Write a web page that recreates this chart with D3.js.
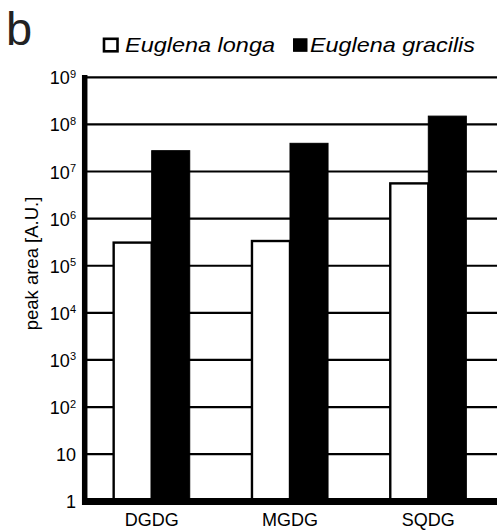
<!DOCTYPE html>
<html>
<head>
<meta charset="utf-8">
<script src="https://cdn.jsdelivr.net/npm/d3@7"></script>
<style>
  html, body { margin: 0; padding: 0; background: #fff; }
  text { font-family: "Liberation Sans", Arial, sans-serif; }
</style>
</head>
<body>
<script>
// Data
const categories = ["DGDG", "MGDG", "SQDG"];
const seriesNames = ["Euglena longa", "Euglena gracilis"];
const longaValues = [3.1e5, 3.35e5, 5.6e6];
const gracilisValues = [2.77e7, 3.97e7, 1.5e8];
const tickPowers = [0, 1, 2, 3, 4, 5, 6, 7, 8, 9];

const width = 497;
const height = 530;

const svg = d3.select("body").append("svg")
    .attr("width", width)
    .attr("height", height)
    .attr("viewBox", [0, 0, width, height]);

// Scales
const y = d3.scaleLog()
    .domain([1, 1e9])
    .range([501.3, 77.3]);

const x = d3.scaleBand()
    .domain(categories)
    .range([86, 494])
    .paddingInner(0.45)
    .paddingOuter(0.2);

const xSub = d3.scaleBand()
    .domain(seriesNames)
    .range([0, x.bandwidth()]);

const rows = categories.map((c, i) => ({
  cat: c,
  values: [
    {name: seriesNames[0], value: longaValues[i], fill: "#fff"},
    {name: seriesNames[1], value: gracilisValues[i], fill: "#000"}
  ]
}));

// Grid lines (behind bars)
svg.append("g")
  .selectAll("line")
  .data(tickPowers.filter(p => p > 0))
  .join("line")
    .attr("x1", 87)
    .attr("x2", width)
    .attr("y1", p => y(Math.pow(10, p)))
    .attr("y2", p => y(Math.pow(10, p)))
    .attr("stroke", "#000")
    .attr("stroke-width", 2.2);

// Bars
svg.append("g")
  .selectAll("g")
  .data(rows)
  .join("g")
    .attr("transform", d => `translate(${x(d.cat)},0)`)
  .selectAll("rect")
  .data(d => d.values)
  .join("rect")
    .attr("x", d => xSub(d.name))
    .attr("width", xSub.bandwidth())
    .attr("y", d => y(d.value))
    .attr("height", d => y(1) - y(d.value))
    .attr("fill", d => d.fill)
    .attr("stroke", "#000")
    .attr("stroke-width", d => d.fill === "#fff" ? 2.4 : 1);

// Y axis with superscript tick labels
const yAxis = d3.axisLeft(y)
    .tickValues(tickPowers.map(p => Math.pow(10, p)))
    .tickSize(0)
    .tickPadding(0)
    .tickFormat(() => "");

const yg = svg.append("g")
    .attr("transform", "translate(76,0)")
    .call(yAxis);
yg.select(".domain").remove();

yg.selectAll(".tick text")
    .attr("font-size", 18)
    .attr("fill", "#000")
    .attr("dy", "0.36em")
    .attr("x", 0)
    .each(function(d) {
      const p = Math.round(Math.log10(d));
      const t = d3.select(this);
      if (p === 0) { t.text("1"); return; }
      if (p === 1) { t.text("10"); return; }
      t.append("tspan").text("10");
      t.append("tspan")
        .attr("font-size", 11)
        .attr("dy", -6.5)
        .text(p);
    });

// Axis lines (thick)
svg.append("line")
    .attr("x1", 84.7).attr("x2", 84.7)
    .attr("y1", 75).attr("y2", 505)
    .attr("stroke", "#000")
    .attr("stroke-width", 5.5);

svg.append("line")
    .attr("x1", 82).attr("x2", width)
    .attr("y1", 501.6).attr("y2", 501.6)
    .attr("stroke", "#000")
    .attr("stroke-width", 7);

// X axis labels
const xAxis = d3.axisBottom(x).tickSize(0).tickPadding(0);
const xg = svg.append("g")
    .attr("transform", "translate(0,512)")
    .call(xAxis);
xg.select(".domain").remove();
xg.selectAll(".tick text")
    .attr("font-size", 18)
    .attr("fill", "#000")
    .attr("y", 0)
    .attr("dy", "0.76em");

// Y axis title
svg.append("text")
    .attr("transform", "translate(38,263.5) rotate(-90)")
    .attr("text-anchor", "middle")
    .attr("font-size", 18.5)
    .attr("fill", "#000")
    .text("peak area [A.U.]");

// Legend
const legendItems = [
  {name: seriesNames[0], fill: "#fff", boxX: 104, textX: 125, len: 150},
  {name: seriesNames[1], fill: "#000", boxX: 293.5, textX: 310, len: 165}
];

const legend = svg.append("g");
legend.selectAll("rect")
  .data(legendItems)
  .join("rect")
    .attr("x", d => d.boxX)
    .attr("y", 38.8)
    .attr("width", 13.5)
    .attr("height", 12.5)
    .attr("fill", d => d.fill)
    .attr("stroke", "#000")
    .attr("stroke-width", d => d.fill === "#fff" ? 2.6 : 1);

legend.selectAll("text")
  .data(legendItems)
  .join("text")
    .attr("x", d => d.textX)
    .attr("y", 52)
    .attr("font-size", 21)
    .attr("font-style", "italic")
    .attr("fill", "#000")
    .attr("textLength", d => d.len)
    .attr("lengthAdjust", "spacingAndGlyphs")
    .text(d => d.name);

// Panel letter
svg.append("text")
    .attr("x", 6)
    .attr("y", 45)
    .attr("font-size", 47)
    .attr("fill", "#222")
    .text("b");
</script>
</body>
</html>
